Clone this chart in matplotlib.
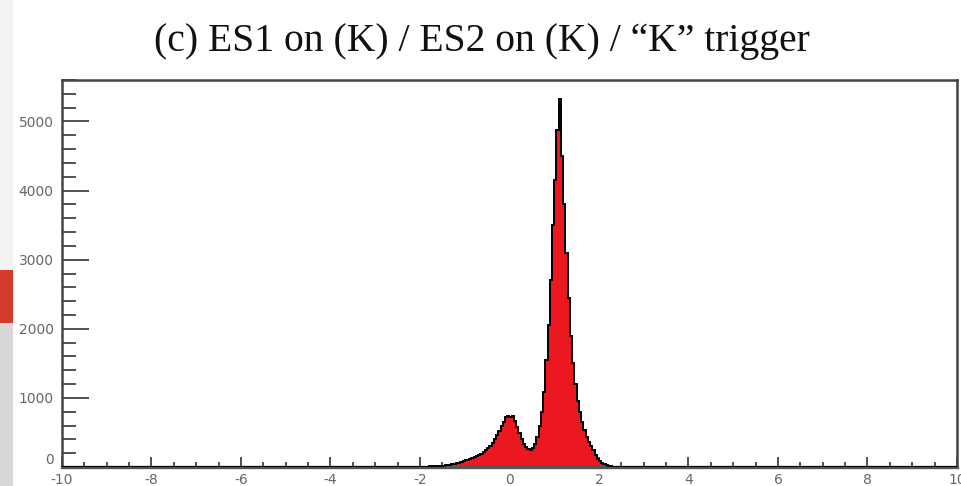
import numpy as np
import matplotlib
matplotlib.use("Agg")
import matplotlib.pyplot as plt
from matplotlib.patches import Rectangle
from matplotlib.ticker import MultipleLocator

# ---- data ----
title = "(c) ES1 on (K) / ES2 on (K) / \u201cK\u201d trigger"
x_min, x_max, bin_width = -10.0, 10.0, 0.05
first_filled_edge = -1.90
filled_counts = [
    5, 5, 8, 8, 10, 12, 15, 18, 20, 25, 30, 35, 40, 48, 55, 62, 70, 80,
    95, 105, 115, 125, 140, 155, 170, 190, 215, 240, 270, 310, 350, 400,
    460, 520, 590, 650, 720, 740, 730, 735, 660, 580, 490, 410, 340, 290,
    265, 250, 270, 330, 440, 600, 800, 1080, 1550, 2050, 2700, 3500, 4150,
    4880, 5330, 4500, 3800, 3100, 2450, 1900, 1500, 1200, 960, 800, 650,
    540, 440, 360, 300, 240, 170, 120, 90, 60, 40, 25, 15, 10, 5,
]
y_major_ticks = [0, 1000, 2000, 3000, 4000, 5000]
x_major_ticks = [-10, -8, -6, -4, -2, 0, 2, 4, 6, 8, 10]
y_top = 5600

# ---- build histogram ----
edges = np.round(np.arange(x_min, x_max + bin_width / 2, bin_width), 4)
counts = np.zeros(len(edges) - 1)
start = int(round((first_filled_edge - x_min) / bin_width))
counts[start:start + len(filled_counts)] = filled_counts

W, H = 962, 486
fig = plt.figure(figsize=(W / 100, H / 100), dpi=100)
fig.patch.set_facecolor("white")

# left slide strip
fig.patches.append(Rectangle((0, 1 - 270 / H), 13 / W, 270 / H, transform=fig.transFigure,
                             facecolor="#f3f3f3", edgecolor="none", zorder=0))
fig.patches.append(Rectangle((0, 1 - 323 / H), 13 / W, 53 / H, transform=fig.transFigure,
                             facecolor="#d43a2a", edgecolor="none", zorder=0))
fig.patches.append(Rectangle((0, 0), 13 / W, (H - 323) / H, transform=fig.transFigure,
                             facecolor="#d8d8d8", edgecolor="none", zorder=0))

ax = fig.add_axes([62 / W, (H - 467) / H, 895 / W, 387 / H])
ax.stairs(counts, edges, fill=True, color="#ec1820", zorder=2)
ax.stairs(counts, edges, color="black", linewidth=1.4, zorder=3)

ax.set_xlim(x_min, x_max)
ax.set_ylim(0, y_top)
ax.set_xticks(x_major_ticks)
ax.set_xticklabels([str(t) for t in x_major_ticks])
ax.set_yticks(y_major_ticks)
ax.set_yticklabels([str(t) for t in y_major_ticks])
ax.xaxis.set_minor_locator(MultipleLocator(0.5))
ax.yaxis.set_minor_locator(MultipleLocator(200))

ax.tick_params(axis="y", which="major", direction="in", length=19.5, width=1.2,
               color="#333333", labelsize=10, labelcolor="#666666", pad=6)
ax.tick_params(axis="y", which="minor", direction="in", length=10, width=1.2, color="#333333")
ax.tick_params(axis="x", which="major", direction="in", length=7, width=1.2,
               color="#333333", labelsize=10, labelcolor="#666666", pad=4)
ax.tick_params(axis="x", which="minor", direction="in", length=3.6, width=1.2, color="#333333")
ax.get_yticklabels()[0].set_verticalalignment("bottom")
for side in ["left", "right", "top"]:
    ax.spines[side].set_color("#444444")
    ax.spines[side].set_linewidth(1.8)
ax.spines["bottom"].set_color("#555555")
ax.spines["bottom"].set_linewidth(2.4)

fig.text(482 / W, 1 - 41 / H, title, ha="center", va="center",
         family="Liberation Serif", fontsize=28.5, color="#111111")

fig.savefig("out.png", dpi=100, facecolor="white")
